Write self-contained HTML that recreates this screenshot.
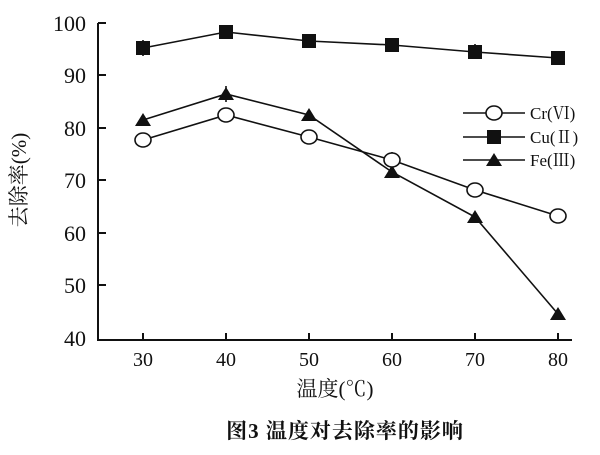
<!DOCTYPE html><html><head><meta charset="utf-8"><style>body{margin:0;background:#fff}</style></head><body>
<svg width="600" height="450" xmlns="http://www.w3.org/2000/svg" font-family="Liberation Serif, Noto Serif CJK SC, serif">
<g stroke="#111" stroke-width="2" fill="none">
<path d="M98,23V340H572"/>
<path d="M98,23h8M98,75h8M98,128h8M98,180h8M98,233h8M98,285h8"/>
<path d="M143,340v-7M226,340v-7M309,340v-7M392,340v-7M475,340v-7M558,340v-7"/>
</g>
<g font-size="22" text-anchor="end" fill="#111">
<text x="86" y="31">100</text><text x="86" y="83">90</text><text x="86" y="136">80</text><text x="86" y="188">70</text><text x="86" y="241">60</text><text x="86" y="293">50</text><text x="86" y="346">40</text>
</g>
<g font-size="20" text-anchor="middle" fill="#111">
<text x="143" y="366">30</text><text x="226" y="366">40</text><text x="309" y="366">50</text><text x="392" y="366">60</text><text x="475" y="366">70</text><text x="558" y="366">80</text>
</g>
<text x="335" y="396" font-size="21" text-anchor="middle" fill="#111">温度(℃)</text>
<text x="345" y="438" font-size="21" font-weight="bold" text-anchor="middle" fill="#111" letter-spacing="1">图3  温度对去除率的影响</text>
<text transform="translate(26,180) rotate(-90)" font-size="21" text-anchor="middle" fill="#111">去除率(%)</text>
<g stroke="#111" stroke-width="1.6" fill="none">
<polyline points="143,48 226,32 309,41 392,45 475,52 558,58"/>
<polyline points="143,140 226,115 309,137 392,160 475,190 558,216"/>
<polyline points="143,120 226,94 309,115 392,172 475,217 558,314"/>
<path d="M143,40v16M226,26v12M475,44v14M392,152v16M226,86v16M143,134v12"/>
<path d="M463,113h62M463,137h62M463,160h62"/>
</g>
<g fill="#111">
<rect x="136" y="41" width="14" height="14"/><rect x="219" y="25" width="14" height="14"/><rect x="302" y="34" width="14" height="14"/><rect x="385" y="38" width="14" height="14"/><rect x="468" y="45" width="14" height="14"/><rect x="551" y="51" width="14" height="14"/><rect x="487" y="130" width="14" height="14"/>
<path d="M143,113l8,13h-16z M226,87l8,13h-16z M309,108l8,13h-16z M392,165l8,13h-16z M475,210l8,13h-16z M558,307l8,13h-16z M494,153l8,13h-16z"/>
</g>
<g fill="#fff" stroke="#111" stroke-width="1.6">
<ellipse cx="143" cy="140" rx="8" ry="7"/><ellipse cx="226" cy="115" rx="8" ry="7"/><ellipse cx="309" cy="137" rx="8" ry="7"/><ellipse cx="392" cy="160" rx="8" ry="7"/><ellipse cx="475" cy="190" rx="8" ry="7"/><ellipse cx="558" cy="216" rx="8" ry="7"/><ellipse cx="494" cy="113" rx="8" ry="7"/>
</g>
<g font-size="17" fill="#111">
<text x="530" y="119">Cr(Ⅵ)</text><text x="530" y="143">Cu(Ⅱ)</text><text x="530" y="166">Fe(Ⅲ)</text>
</g>
</svg></body></html>
